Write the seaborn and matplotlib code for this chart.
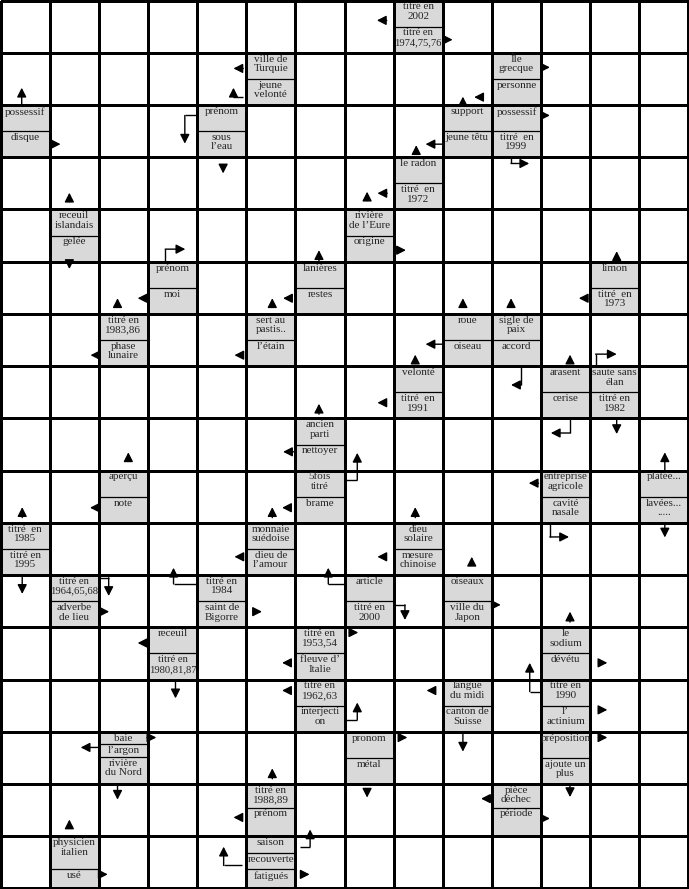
import numpy as np
import matplotlib
matplotlib.use("Agg")
import matplotlib.pyplot as plt
from matplotlib.colors import ListedColormap
from matplotlib.patches import Rectangle
import seaborn as sns

sns.set_style("white")
plt.rcParams["font.family"] = ["Liberation Serif", "DejaVu Serif"]

N_ROWS, N_COLS = 17, 14

# cases de définitions : (ligne, colonne)
clue_cells = [
    (0, 8), (1, 5), (1, 10), (2, 0), (2, 4), (2, 9), (2, 10), (3, 8),
    (4, 1), (4, 7), (5, 3), (5, 6), (5, 12), (6, 2), (6, 5), (6, 9),
    (6, 10), (7, 8), (7, 11), (7, 12), (8, 6), (9, 2), (9, 6), (9, 11),
    (9, 13), (10, 0), (10, 5), (10, 8), (11, 1), (11, 4), (11, 7), (11, 9),
    (12, 3), (12, 6), (12, 11), (13, 6), (13, 9), (13, 11), (14, 2), (14, 7),
    (14, 11), (15, 5), (15, 10), (16, 1), (16, 5),
]

clue_texts = [
    ["titré en\n2002", "titré en\n1974,75,76"],
    ["ville de\nTurquie", "jeune\nvelonté"],
    ["Île\ngrecque", "personne"],
    ["possessif", "disque"],
    ["prénom", "sous\nl’eau"],
    ["support", "jeune têtu"],
    ["possessif", "titré  en\n1999"],
    ["le radon", "titré  en\n1972"],
    ["receuil\nislandais", "gelée"],
    ["rivière\nde l’Eure", "origine"],
    ["prénom", "moi"],
    ["lanières", "restes"],
    ["limon", "titré  en\n1973"],
    ["titré en\n1983,86", "phase\nlunaire"],
    ["sert au\npastis..", "l’étain"],
    ["roue", "oiseau"],
    ["sigle de\npaix", "accord"],
    ["velonté", "titré  en\n1991"],
    ["arasent", "cerise"],
    ["saute sans\nélan", "titré en\n1982"],
    ["ancien\nparti", "nettoyer"],
    ["aperçu", "note"],
    ["5fois\ntitré", "brame"],
    ["entreprise\nagricole", "cavité\nnasale"],
    ["platée...", "lavées...\n....."],
    ["titré  en\n1985", "titré en\n1995"],
    ["monnaie\nsuédoise", "dieu de\nl’amour"],
    ["dieu\nsolaire", "mesure\nchinoise"],
    ["titré en\n1964,65,68", "adverbe\nde lieu"],
    ["titré en\n1984", "saint de\nBigorre"],
    ["article", "titré en\n2000"],
    ["oiseaux", "ville du\nJapon"],
    ["receuil", "titré en\n1980,81,87"],
    ["titré en\n1953,54", "fleuve d’\nItalie"],
    ["le\nsodium", "dévétu"],
    ["titré en\n1962,63", "interjecti\non"],
    ["langue\ndu midi", "canton de\nSuisse"],
    ["titré en\n1990", "l’\nactinium"],
    ["baie", "l’argon", "rivière\ndu Nord"],
    ["pronom", "métal"],
    ["préposition", "ajoute un\nplus"],
    ["titré en\n1988,89", "prénom"],
    ["pièce\ndéchec", "période"],
    ["physicien\nitalien", "usé"],
    ["saison", "recouverte", "fatigués"],
]

# séparations internes qui ne sont pas à mi-hauteur
clue_splits = {
    (14, 2): [0.24, 0.48],
    (15, 5): [0.45],
    (15, 10): [0.45],
    (16, 1): [0.63],
    (16, 5): [0.33, 0.63],
}

# flèches : (ligne, colonne, sens, position, écart, segment1, segment2)
arrows_left = [
    (0, 8, "L", 0.38, 0.14, 0.20), (1, 5, "L", 0.30, 0.06, 0.20),
    (1, 10, "L", 0.85, 0.18, 0.18), (2, 9, "L", 0.75, 0.0, 0.35),
    (3, 8, "L", 0.69, 0.13, 0.20), (5, 3, "L", 0.70, 0.01, 0.20),
    (5, 6, "L", 0.70, 0.08, 0.17), (5, 12, "L", 0.70, 0.05, 0.18),
    (6, 2, "L", 0.79, 0.0, 0.17), (6, 5, "L", 0.79, 0.06, 0.18),
    (6, 9, "L", 0.58, 0.0, 0.35), (7, 8, "L", 0.70, 0.15, 0.18),
    (8, 6, "L", 0.64, 0.0, 0.25), (9, 2, "L", 0.71, 0.0, 0.18),
    (9, 6, "L", 0.71, 0.10, 0.17), (9, 11, "L", 0.24, 0.05, 0.20),
    (10, 5, "L", 0.65, 0.06, 0.18), (10, 8, "L", 0.65, 0.15, 0.18),
    (12, 3, "L", 0.30, 0.01, 0.20), (12, 6, "L", 0.68, 0.10, 0.17),
    (13, 6, "L", 0.21, 0.10, 0.17), (13, 9, "L", 0.21, 0.16, 0.17),
    (14, 2, "L", 0.30, 0.0, 0.37), (15, 5, "L", 0.64, 0.08, 0.18),
    (15, 10, "L", 0.28, 0.02, 0.20),
]
arrows_right = [
    (0, 8, "R", 0.75, 0.02, 0.18), (1, 10, "R", 0.28, 0.0, 0.18),
    (2, 0, "R", 0.75, 0.02, 0.20), (2, 10, "R", 0.20, 0.0, 0.18),
    (4, 7, "R", 0.78, 0.07, 0.18), (11, 1, "R", 0.70, 0.03, 0.18),
    (11, 4, "R", 0.70, 0.14, 0.18), (11, 9, "R", 0.57, 0.01, 0.17),
    (12, 6, "R", 0.10, 0.10, 0.18), (12, 11, "R", 0.68, 0.17, 0.18),
    (13, 11, "R", 0.58, 0.17, 0.18), (14, 2, "R", 0.11, -0.02, 0.19),
    (14, 7, "R", 0.11, 0.11, 0.17), (14, 11, "R", 0.11, 0.17, 0.18),
    (15, 10, "R", 0.66, 0.0, 0.18), (16, 1, "R", 0.73, 0.0, 0.18),
    (16, 5, "R", 0.73, 0.12, 0.17),
]
arrows_up = [
    (2, 0, "U", 0.43, 0.0, 0.33), (2, 9, "U", 0.41, 0.0, 0.16),
    (3, 8, "U", 0.46, 0.07, 0.16), (4, 1, "U", 0.40, 0.15, 0.17),
    (4, 7, "U", 0.46, 0.17, 0.17), (5, 6, "U", 0.48, 0.0, 0.22),
    (5, 12, "U", 0.54, 0.0, 0.20), (6, 2, "U", 0.38, 0.13, 0.17),
    (6, 5, "U", 0.53, 0.13, 0.17), (6, 9, "U", 0.41, 0.13, 0.17),
    (6, 10, "U", 0.39, 0.13, 0.17), (7, 8, "U", 0.44, 0.05, 0.17),
    (7, 11, "U", 0.59, 0.05, 0.17), (8, 6, "U", 0.48, 0.08, 0.20),
    (9, 2, "U", 0.60, 0.20, 0.15), (9, 13, "U", 0.52, 0.0, 0.35),
    (10, 0, "U", 0.44, 0.10, 0.20), (10, 5, "U", 0.53, 0.10, 0.20),
    (10, 8, "U", 0.44, 0.10, 0.20), (11, 9, "U", 0.59, 0.20, 0.15),
    (12, 11, "U", 0.59, 0.10, 0.20), (15, 5, "U", 0.53, 0.10, 0.20),
    (16, 1, "U", 0.40, 0.15, 0.17),
]
arrows_down = [
    (2, 4, "D", 0.53, 0.14, 0.17), (4, 1, "D", 0.40, 0.0, 0.14),
    (7, 12, "D", 0.54, 0.0, 0.30), (9, 13, "D", 0.52, 0.0, 0.28),
    (10, 0, "D", 0.44, 0.03, 0.33), (12, 3, "D", 0.56, 0.04, 0.32),
    (13, 9, "D", 0.41, 0.0, 0.38), (14, 2, "D", 0.38, 0.0, 0.30),
    (14, 7, "D", 0.46, 0.10, 0.16), (14, 11, "D", 0.59, 0.0, 0.25),
]
arrows_bent = [
    (1, 5, "LU", 0.84, 0.06, 0.20, 0.17), (2, 4, "LD", 0.20, 0.03, 0.22, 0.54),
    (2, 10, "DR", 0.39, 0.0, 0.12, 0.37), (5, 3, "UR", 0.35, 0.0, 0.24, 0.41),
    (6, 10, "DL", 0.59, 0.0, 0.36, 0.20), (7, 12, "UR", 0.11, 0.0, 0.23, 0.43),
    (7, 11, "DL", 0.59, 0.0, 0.28, 0.39), (9, 6, "RU", 0.18, 0.0, 0.26, 0.52),
    (9, 11, "DR", 0.18, 0.0, 0.27, 0.39), (11, 1, "RD", 0.05, 0.0, 0.20, 0.35),
    (11, 4, "LU", 0.17, 0.0, 0.48, 0.31), (11, 7, "LU", 0.17, 0.0, 0.33, 0.31),
    (11, 7, "RD", 0.57, 0.0, 0.23, 0.29), (13, 6, "RU", 0.77, 0.0, 0.26, 0.33),
    (13, 11, "LU", 0.23, 0.0, 0.23, 0.55), (16, 5, "RU", 0.20, 0.10, 0.20, 0.33),
    (16, 5, "LU", 0.56, 0.08, 0.38, 0.36),
]

DIRS = {"L": (-1, 0), "R": (1, 0), "U": (0, -1), "D": (0, 1)}


def arrow_path(r, c, route, pos, gap, seg1, seg2=0.0):
    edge = route[0]
    if edge == "L":
        x, y = c - gap, r + pos
    elif edge == "R":
        x, y = c + 1 + gap, r + pos
    elif edge == "U":
        x, y = c + pos, r - gap
    else:
        x, y = c + pos, r + 1 + gap
    pts = [(x, y)]
    for step, length in zip(route, [seg1, seg2]):
        dx, dy = DIRS[step]
        x, y = x + dx * length, y + dy * length
        pts.append((x, y))
    return pts


# ------------------------------------------------------------
grid = np.zeros((N_ROWS, N_COLS))
for r, c in clue_cells:
    grid[r, c] = 1

fig = plt.figure(figsize=(6.89, 8.89), dpi=100)
ax = fig.add_axes([0, 0, 1, 1])
sns.heatmap(grid, cmap=ListedColormap(["white", "#d9d9d9"]), vmin=0, vmax=1,
            cbar=False, linewidths=0.9, linecolor="black",
            xticklabels=False, yticklabels=False, ax=ax)
ax.set_xlim(-0.012, N_COLS + 0.012)
ax.set_ylim(N_ROWS + 0.01, -0.01)

labels = []
for (r, c), texts in zip(clue_cells, clue_texts):
    splits = clue_splits.get((r, c), [0.5])
    for s in splits:
        ax.plot([c, c + 1], [r + s, r + s], color="black", lw=0.9)
    starts = [0.0] + splits
    clip = Rectangle((c, r), 1, 1, transform=ax.transData)
    for s, txt in zip(starts, texts):
        t = ax.text(c + 0.5, r + s + 0.035, txt, ha="center", va="top",
                    fontsize=8.0, linespacing=1.08)
        t.set_clip_path(clip)
        labels.append(t)

# resserrer les textes trop larges pour la case (années)
fig.canvas.draw()
renderer = fig.canvas.get_renderer()
cell_px = fig.bbox.width / N_COLS
for t in labels:
    w = t.get_window_extent(renderer).width
    if w > cell_px - 1 and any(ch.isdigit() for ch in t.get_text()):
        t.set_fontsize(8.0 * (cell_px - 1.5) / w)

all_arrows = arrows_left + arrows_right + arrows_up + arrows_down + arrows_bent
for a in all_arrows:
    pts = arrow_path(*a)
    if len(pts) > 2:
        xs, ys = zip(*pts[:-1])
        ax.plot(xs, ys, color="black", lw=1.0, solid_capstyle="butt")
    ax.annotate("", xy=pts[-1], xytext=pts[-2],
                arrowprops=dict(arrowstyle="-|>,head_length=0.55,head_width=0.28",
                                color="black", lw=1.0, shrinkA=0, shrinkB=0))

fig.savefig("out.png", dpi=100)
